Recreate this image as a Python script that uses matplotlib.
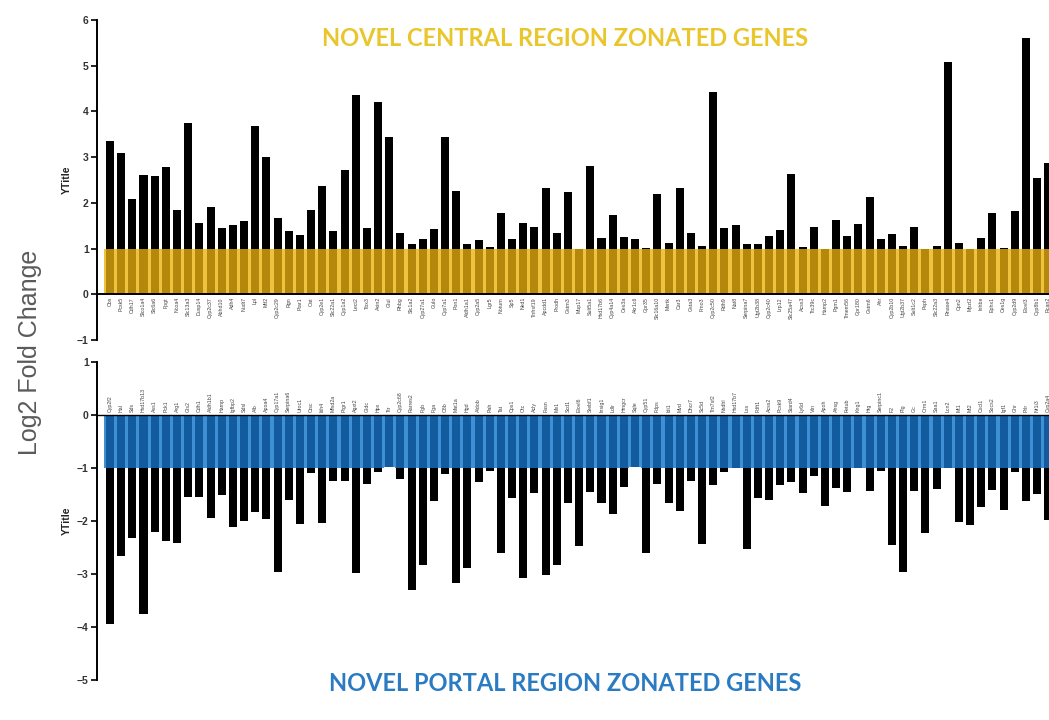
import matplotlib
matplotlib.use("Agg")
import matplotlib.pyplot as plt
import numpy as np

plt.rcParams["font.family"] = ["Liberation Sans", "DejaVu Sans"]

# log2 fold change per gene, central (pericentral) and portal (periportal) sets
central_genes = [
    "Cbs", "Pcsk5", "Cdh17", "Slco1a4", "Slc6a6", "Fpgt", "Ncoa4", "Slc13a3", "Dusp14", "Cyp2c37",
    "Abhd10", "Adh4", "Nudt7", "Lpl", "Mtf2", "Cyp2c29", "Rgn", "Ptar1", "Oat", "Cyp2e1",
    "Slc22a1", "Cyp1a2", "Lect2", "Tbx3", "Axin2", "Glul", "Rhbg", "Slc1a2", "Cyp27a1", "Gulo",
    "Cyp7a1", "Pon1", "Aldh1a1", "Cyp2a5", "Lgr5", "Notum", "Sp5", "Nkd1", "Tnfrsf19", "Apcdd1",
    "Prodh", "Gstm3", "Mup17", "Sult5a1", "Hsd17b6", "Cyp4a14", "Ces3a", "Akr1c6", "Gpr35", "Slc16a10",
    "Mertk", "Car3", "Gsta3", "Fmo3", "Cyp2c50", "Rdh9", "Nat8", "Serpina7", "Ugt2b38", "Cyp2c40",
    "Lrp12", "Slc25a47", "Acss3", "Ttc39c", "Hamp2", "Pgm1", "Tmem56", "Gpr180", "Gstm6", "Ahr",
    "Cyp2b10", "Ugt2b37", "Sult1c2", "Psph", "Slc22a3", "Rnase4", "Cpn2", "Mpzl2", "Inhbe", "Ephx1",
    "Ces1g", "Cyp2d9", "Elovl3", "Cyp8b1", "Rcan2",
]
central_fc = [
    3.35, 3.09, 2.09, 2.60, 2.58, 2.79, 1.84, 3.75, 1.56, 1.91,
    1.45, 1.51, 1.61, 3.69, 3.00, 1.66, 1.38, 1.29, 1.84, 2.36,
    1.38, 2.71, 4.35, 1.45, 4.20, 3.44, 1.35, 1.09, 1.20, 1.43,
    3.44, 2.25, 1.11, 1.19, 1.04, 1.78, 1.20, 1.55, 1.48, 2.33,
    1.33, 2.24, 1.00, 2.81, 1.24, 1.73, 1.26, 1.22, 1.02, 2.20,
    1.13, 2.33, 1.35, 1.06, 4.42, 1.44, 1.51, 1.11, 1.11, 1.27,
    1.40, 2.64, 1.04, 1.48, 1.00, 1.62, 1.28, 1.53, 2.13, 1.22,
    1.31, 1.05, 1.48, 1.00, 1.05, 5.08, 1.13, 1.00, 1.24, 1.78,
    1.02, 1.82, 5.60, 2.55, 2.87,
]

portal_genes = [
    "Cyp2f2", "Hal", "Sds", "Hsd17b13", "Ass1", "Pck1", "Arg1", "Gls2", "Cdh1", "Aldh1b1",
    "Hamp", "Igfbp2", "Sdsl", "Alb", "Apoa4", "Cyp17a1", "Serpina6", "Uroc1", "Ctsc", "Itih4",
    "Mfsd2a", "Ptgr1", "Agxt2", "Gldc", "Hpx", "Ttr", "Cyp2c68", "Rarres2", "Fgb", "Fga",
    "C8b", "Mat1a", "Hgd", "Aldob", "Pah", "Tat", "Cps1", "Otc", "Acly", "Fasn",
    "Me1", "Scd1", "Elovl6", "Srebf1", "Insig1", "Ldlr", "Hmgcr", "Sqle", "Cyp51", "Fdps",
    "Idi1", "Mvd", "Dhcr7", "Sc5d", "Tm7sf2", "Nsdhl", "Hsd17b7", "Lss", "Fdft1", "Acss2",
    "Pcsk9", "Stard4", "Ly6d", "Vtn", "Apoh", "Ahsg", "Fetub", "Kng1", "Hrg", "Serpinc1",
    "F2", "Plg", "Gc", "Orm1", "Saa1", "Lcn2", "Mt1", "Mt2", "Cxcl1", "Socs2",
    "Igf1", "Ghr", "Prlr", "Nr1i3", "Cyp2a4",
]
portal_fc = [
    -3.94, -2.66, -2.32, -3.75, -2.20, -2.37, -2.42, -1.54, -1.55, -1.95,
    -1.51, -2.12, -2.01, -1.84, -1.97, -2.96, -1.60, -2.06, -1.09, -2.04,
    -1.24, -1.24, -2.98, -1.30, -1.07, -0.99, -1.21, -3.30, -2.84, -1.62,
    -1.12, -3.17, -2.89, -1.26, -1.06, -2.60, -1.57, -3.08, -1.47, -3.02,
    -2.84, -1.66, -2.47, -1.45, -1.66, -1.86, -1.36, -0.99, -2.60, -1.31,
    -1.66, -1.81, -1.25, -2.44, -1.33, -1.08, -1.00, -2.52, -1.57, -1.61,
    -1.33, -1.26, -1.48, -1.15, -1.72, -1.37, -1.45, -1.00, -1.43, -1.05,
    -2.46, -2.97, -1.43, -2.23, -1.39, -1.00, -2.02, -2.07, -1.73, -1.41,
    -1.79, -1.08, -1.63, -1.49, -1.99,
]

GOLD_LIGHT = "#EFC240"
GOLD_DARK = "#B5880C"
BLUE_LIGHT = "#3F8FD5"
BLUE_DARK = "#125B9F"
TITLE_GOLD = "#E9C62C"
TITLE_BLUE = "#2A7BC1"
BAR_W = 0.72


def style_axis(ax, yticks):
    for side in ("right", "top", "bottom"):
        ax.spines[side].set_visible(False)
    ax.spines["left"].set_linewidth(1.4)
    ax.spines["left"].set_bounds(yticks[0], yticks[-1])
    ax.set_yticks(yticks)
    ax.tick_params(axis="y", direction="out", length=4, width=1.2,
                   labelsize=7.5, labelcolor="#333333", pad=2)
    for lbl in ax.get_yticklabels():
        lbl.set_fontweight("bold")
    ax.set_ylabel("YTitle", fontsize=7.5, fontweight="bold", color="#222222", labelpad=4)


fig = plt.figure(figsize=(10.49, 7.2), dpi=100)
ax_top = fig.add_axes([0.0925, 0.5278, 0.9075, 0.4444])
ax_bot = fig.add_axes([0.0925, 0.0556, 0.9075, 0.4417])

# central genes: shaded band 0..1, black above the threshold
c = np.asarray(central_fc)
xc = np.arange(len(c))
band = np.minimum(c, 1.0)
ax_top.bar(xc, band, width=1.0, color=GOLD_LIGHT, zorder=1)
ax_top.bar(xc, band, width=BAR_W, color=GOLD_DARK, zorder=2)
ax_top.bar(xc, np.clip(c - 1.0, 0, None), bottom=1.0, width=BAR_W, color="black", zorder=2)
ax_top.set_xlim(-1.16, 84.06)
ax_top.set_ylim(-1, 6)
style_axis(ax_top, list(range(-1, 7)))
ax_top.spines["bottom"].set_visible(True)
ax_top.spines["bottom"].set_position(("data", 0))
ax_top.spines["bottom"].set_linewidth(1.4)
ax_top.set_xticks(xc)
ax_top.set_xticklabels(central_genes, rotation=90, fontsize=3.8, color="#444444")
ax_top.tick_params(axis="x", length=0, pad=2)

# portal genes: shaded band 0..-1, black below the threshold
p = np.asarray(portal_fc)
xp = np.arange(len(p))
band = np.maximum(p, -1.0)
ax_bot.bar(xp, band, width=1.0, color=BLUE_LIGHT, zorder=1)
ax_bot.bar(xp, band, width=BAR_W, color=BLUE_DARK, zorder=2)
ax_bot.bar(xp, np.clip(p + 1.0, None, 0), bottom=-1.0, width=BAR_W, color="black", zorder=2)
ax_bot.set_xlim(-1.16, 84.06)
ax_bot.set_ylim(-5, 1)
style_axis(ax_bot, list(range(-5, 2)))
ax_bot.spines["top"].set_visible(True)
ax_bot.spines["top"].set_position(("data", 0))
ax_bot.spines["top"].set_linewidth(1.0)
ax_bot.xaxis.set_ticks_position("top")
ax_bot.set_xticks(xp)
ax_bot.set_xticklabels(portal_genes, rotation=90, fontsize=3.8, color="#444444")
ax_bot.tick_params(axis="x", length=0, pad=2)

fig.text(0.029, 0.511, "Log2 Fold Change", rotation=90, ha="center", va="center",
         fontsize=18, color="#5a5a5a")
fig.text(0.539, 0.947, "NOVEL CENTRAL REGION ZONATED GENES", ha="center", va="center",
         fontsize=17, fontweight="bold", family="Lato", color=TITLE_GOLD)
fig.text(0.539, 0.051, "NOVEL PORTAL REGION ZONATED GENES", ha="center", va="center",
         fontsize=17, fontweight="bold", family="Lato", color=TITLE_BLUE)

fig.savefig("out.png", dpi=100)
